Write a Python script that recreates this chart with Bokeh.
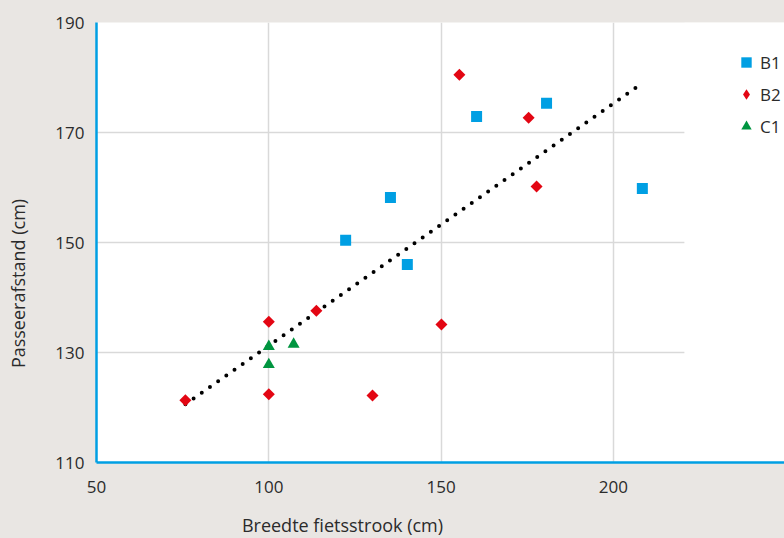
import numpy as np
from bokeh.plotting import figure
from bokeh.layouts import row, column
from bokeh.models import Range1d, FixedTicker, Legend, LegendItem, Label, BoxAnnotation
from bokeh.embed import file_html
from bokeh.resources import INLINE

# --- data ---
b1_x = [122.3, 135.3, 140.2, 160.3, 180.6, 208.4]
b1_y = [150.4, 158.2, 146.0, 172.9, 175.3, 159.8]
b2_x = [75.8, 100.0, 100.0, 113.8, 130.1, 150.1, 155.3, 175.4, 177.7]
b2_y = [121.3, 135.6, 122.4, 137.6, 122.2, 135.1, 180.5, 172.7, 160.2]
c1_x = [100.0, 100.0, 107.2]
c1_y = [131.1, 127.8, 131.5]
series_names = ["B1", "B2", "C1"]
x_ticks = [50, 100, 150, 200]
y_ticks = [110, 130, 150, 170, 190]
x_title = "Breedte fietsstrook (cm)"
y_title = "Passeerafstand (cm)"

BG = "#e9e6e3"
BLUE = "#009fe3"
RED = "#e30613"
GREEN = "#009540"
TXT = "#2b2b2b"
FONT = "Open Sans"


def blank(w, h):
    f = figure(width=w, height=h, x_range=Range1d(0, 1), y_range=Range1d(0, 1),
               x_axis_type=None, y_axis_type=None, output_backend="svg",
               toolbar_location=None, min_border=0, outline_line_color=None,
               background_fill_color=BG, border_fill_color=BG)
    f.grid.visible = False
    return f


# main plot
p = figure(width=750, height=508, x_range=Range1d(50, 249.65), y_range=Range1d(110, 190),
           output_backend="svg", toolbar_location=None,
           min_border_left=62, min_border_right=0, min_border_top=22, min_border_bottom=46,
           background_fill_color="white", border_fill_color=BG, outline_line_color=None)

for g in (p.xgrid, p.ygrid):
    g.grid_line_color = "#d9d9d9"
    g.grid_line_width = 1.5
p.xaxis.ticker = FixedTicker(ticks=x_ticks)
p.yaxis.ticker = FixedTicker(ticks=y_ticks)

# horizontal gridlines stop short of the right edge, as in the reference
cover = BoxAnnotation(left=220.6, fill_color="white", fill_alpha=1, line_alpha=0, level="underlay")
p.add_layout(cover)

for ax in (p.xaxis, p.yaxis):
    ax.axis_line_color = BLUE
    ax.axis_line_width = 2.5
    ax.major_tick_line_color = None
    ax.minor_tick_line_color = None
    ax.major_tick_out = 0
    ax.major_tick_in = 0
    ax.major_label_text_font = FONT
    ax.major_label_text_font_size = "17px"
    ax.major_label_text_color = TXT
p.yaxis.major_label_standoff = 12
p.xaxis.major_label_standoff = 18

# trendline (least squares on all points)
all_x = np.array(b1_x + b2_x + c1_x)
all_y = np.array(b1_y + b2_y + c1_y)
k, m = np.polyfit(all_x, all_y, 1)
tx = np.array([all_x.min(), all_x.max()])
p.line(tx, k * tx + m, line_color="black", line_width=4, line_dash="0 10", line_cap="round")

r1 = p.scatter(b1_x, b1_y, marker="square", size=11, fill_color=BLUE, line_color=None)
r2 = p.scatter(b2_x, b2_y, marker="square", angle=np.pi / 4, size=8.5, fill_color=RED, line_color=None)
# legend symbol for B2 (legend glyphs are never rotated, so use the diamond marker; not drawn)
r2_key = p.scatter(b2_x, b2_y, marker="diamond", size=12, fill_color=RED, line_color=None, visible=False)
r3 = p.scatter(c1_x, c1_y, marker="triangle", size=12, fill_color=GREEN, line_color=None)

legend = Legend(items=[LegendItem(label=series_names[0], renderers=[r1]),
                       LegendItem(label=series_names[1], renderers=[r2_key]),
                       LegendItem(label=series_names[2], renderers=[r3])],
                location=(637, 323), orientation="vertical",
                background_fill_alpha=0, border_line_color=None,
                padding=0, margin=0, spacing=6,
                glyph_width=26, glyph_height=26, label_height=26,
                label_standoff=1, label_text_font=FONT, label_text_font_size="17px",
                label_text_color=TXT)
p.add_layout(legend)

# y-axis title strip (left)
yfig = blank(34, 538)
yfig.add_layout(Label(x=17, y=255, x_units="screen", y_units="screen", text=y_title,
                      angle=np.pi / 2, text_font=FONT, text_font_size="18px", text_color=TXT,
                      text_align="center", text_baseline="middle"))

# x-axis title strip (bottom)
xfig = blank(750, 30)
xfig.add_layout(Label(x=246, y=14, x_units="screen", y_units="screen", text=x_title,
                      text_font=FONT, text_font_size="18px", text_color=TXT,
                      text_align="center", text_baseline="middle"))

layout = row(yfig, column(p, xfig, spacing=0), spacing=0)

html = file_html(layout, INLINE)
html = html.replace("<head>", "<head><style>html,body{background:%s;}</style>" % BG, 1)
open("out.html", "w").write(html)
